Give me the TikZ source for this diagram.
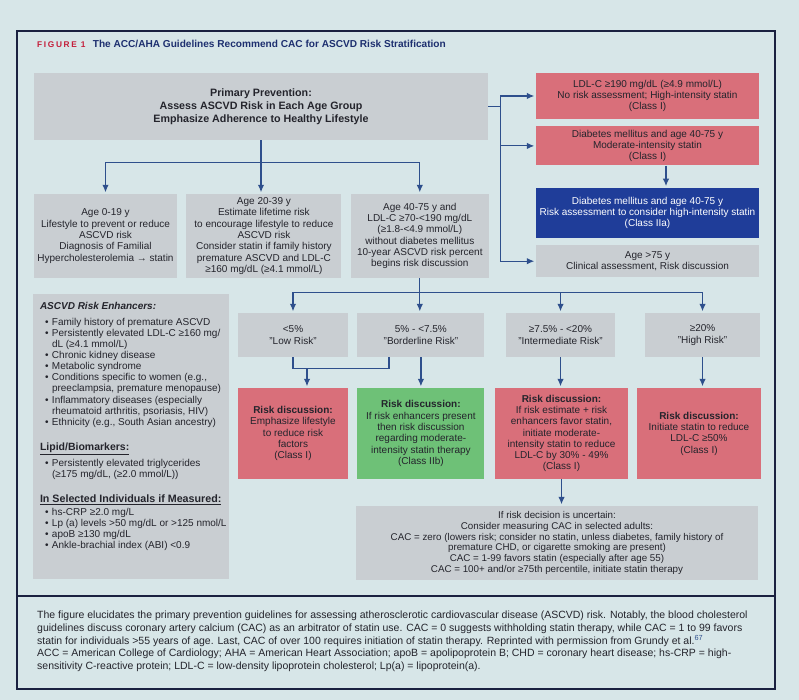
\documentclass[tikz,border=0pt]{standalone}
\usepackage{fontspec}
\setmainfont{Liberation Sans}
\newfontfamily\figfont[LetterSpace=20]{Liberation Sans}
\usetikzlibrary{positioning}
\usetikzlibrary{calc}
\usetikzlibrary{arrows.meta}

\definecolor{bgc}{HTML}{D7E6E8}
\definecolor{boxgrey}{HTML}{C9CED2}
\definecolor{boxred}{HTML}{D96F7A}
\definecolor{boxgreen}{HTML}{6EC177}
\definecolor{boxblue}{HTML}{1F3D99}
\definecolor{linkblue}{HTML}{2E4F8C}
\definecolor{framec}{HTML}{1A2140}
\definecolor{figred}{HTML}{C41E3A}
\definecolor{titleblue}{HTML}{1D2F6F}
\definecolor{txt}{HTML}{24242C}

\newcommand{\itm}{\hspace*{5pt}\makebox[7pt][l]{\textbullet}}
\newcommand{\itmc}{\hspace*{12pt}}

\tikzset{
	box/.style = {rectangle, inner sep = 2pt, align = center, text = txt, font = \fontsize{10}{11.3}\selectfont},
	greybox/.style = {box, fill = boxgrey},
	redbox/.style = {box, fill = boxred},
	greenbox/.style = {box, fill = boxgreen},
	bluebox/.style = {box, fill = boxblue, text = white},
	link/.style = {draw = linkblue, line width = 1.2pt},
	arrow/.style = {link, -{Latex[length = 7.5pt, width = 6.5pt]}, shorten > = 1.5pt},
}

\begin{document}
\begin{tikzpicture}[x = 1pt, y = -1pt]
	\useasboundingbox (0,0) rectangle (799,700);
	\fill[bgc] (0,0) rectangle (799,700);
	\draw[framec, line width = 1.4pt] (17,31) rectangle (775,689);
	\draw[framec, line width = 1.4pt] (17,596) -- (775,596);

	% title
	\node[anchor = west, inner sep = 0, font = \figfont\bfseries\fontsize{8.3}{9}\selectfont, text = figred] (fig) at (37,45) {FIGURE 1};
	\node[anchor = base west, inner sep = 0, font = \bfseries\fontsize{10.1}{12}\selectfont, text = titleblue] (title) at ($(fig.base east) + (7,0)$)
	{The ACC/AHA Guidelines Recommend CAC for ASCVD Risk Stratification};

	% age groups
	\node[greybox, minimum width = 454pt, minimum height = 67pt, font = \bfseries\fontsize{10.7}{13}\selectfont] (prev) at (261,106.5)
	{Primary Prevention:\\Assess ASCVD Risk in Each Age Group\\Emphasize Adherence to Healthy Lifestyle};
	\node[greybox, minimum width = 143pt, minimum height = 84pt] (age0) at (105.5,236)
	{Age 0-19 y\\Lifestyle to prevent or reduce\\ASCVD risk\\Diagnosis of Familial\\Hypercholesterolemia → statin};
	\node[greybox, right = 9pt of age0, minimum width = 155pt, minimum height = 84pt] (age1)
	{Age 20-39 y\\Estimate lifetime risk\\to encourage lifestyle to reduce\\ASCVD risk\\Consider statin if family history\\premature ASCVD and LDL-C\\≥160 mg/dL (≥4.1 mmol/L)};
	\node[greybox, right = 9pt of age1, minimum width = 138pt, minimum height = 84pt] (age2)
	{Age 40-75 y and\\LDL-C ≥70-<190 mg/dL\\(≥1.8-<4.9 mmol/L)\\without diabetes mellitus\\10-year ASCVD risk percent\\begins risk discussion};

	% right column
	\node[redbox, minimum width = 223pt, minimum height = 46pt] (ldl) at (647.5,96)
	{LDL-C ≥190 mg/dL (≥4.9 mmol/L)\\No risk assessment; High-intensity statin\\(Class I)};
	\node[redbox, below = 7pt of ldl, minimum width = 223pt, minimum height = 39pt] (dm)
	{Diabetes mellitus and age 40-75 y\\Moderate-intensity statin\\(Class I)};
	\node[bluebox, below = 22pt of dm, minimum width = 223pt, minimum height = 50pt] (dmrisk)
	{Diabetes mellitus and age 40-75 y\\Risk assessment to consider high-intensity statin\\(Class IIa)};
	\node[greybox, below = 7pt of dmrisk, minimum width = 223pt, minimum height = 32pt] (old)
	{Age >75 y\\Clinical assessment, Risk discussion};

	% risk enhancers
	\node[greybox, minimum width = 196pt, minimum height = 285pt] (enh) at (131,436.5) {};
	\node[below right = 8pt and 7pt of enh.north west, inner sep = 0, align = left, text = txt, font = \fontsize{10}{11.1}\selectfont] (enhtext)
	{{\bfseries\itshape ASCVD Risk Enhancers:}\\[5pt]
		\itm Family history of premature ASCVD\\
		\itm Persistently elevated LDL-C ≥160 mg/\\
		\itmc dL (≥4.1 mmol/L)\\
		\itm Chronic kidney disease\\
		\itm Metabolic syndrome\\
		\itm Conditions specific to women (e.g.,\\
		\itmc preeclampsia, premature menopause)\\
		\itm Inflammatory diseases (especially\\
		\itmc rheumatoid arthritis, psoriasis, HIV)\\
		\itm Ethnicity (e.g., South Asian ancestry)\\[14pt]
		{\bfseries\fontsize{10.5}{12}\selectfont\underline{Lipid/Biomarkers:}}\\[4pt]
		\itm Persistently elevated triglycerides\\
		\itmc (≥175 mg/dL, (≥2.0 mmol/L))\\[14pt]
		{\bfseries\fontsize{10.7}{12}\selectfont\underline{In Selected Individuals if Measured:}}\\[1pt]
		\itm hs-CRP ≥2.0 mg/L\\
		\itm Lp (a) levels >50 mg/dL or >125 nmol/L\\
		\itm apoB ≥130 mg/dL\\
		\itm Ankle-brachial index (ABI) <0.9};

	% risk levels
	\node[greybox, minimum width = 110pt, minimum height = 44pt] (low) at (293,335) {<5\%\\[1pt]"Low Risk"};
	\node[greybox, right = 9pt of low, minimum width = 127pt, minimum height = 44pt] (border) {5\% - <7.5\%\\[1pt]"Borderline Risk"};
	\node[greybox, minimum width = 109pt, minimum height = 44pt] (inter) at (560.5,335) {≥7.5\% - <20\%\\[1pt]"Intermediate Risk"};
	\node[greybox, minimum width = 115pt, minimum height = 44pt] (high) at (702.5,335) {≥20\%\\[1pt]"High Risk"};

	\node[redbox, minimum width = 110pt, minimum height = 91pt] (lowrx) at (293,433.5)
	{\textbf{Risk discussion:}\\Emphasize lifestyle\\to reduce risk\\factors\\(Class I)};
	\node[greenbox, right = 9pt of lowrx, minimum width = 127pt, minimum height = 91pt] (borderrx)
	{\textbf{Risk discussion:}\\If risk enhancers present\\then risk discussion\\regarding moderate-\\intensity statin therapy\\(Class IIb)};
	\node[redbox, minimum width = 133pt, minimum height = 91pt] (interrx) at (561.5,433.5)
	{\textbf{Risk discussion:}\\If risk estimate + risk\\enhancers favor statin,\\initiate moderate-\\intensity statin to reduce\\LDL-C by 30\% - 49\%\\(Class I)};
	\node[redbox, minimum width = 124pt, minimum height = 91pt] (highrx) at (699,433.5)
	{\textbf{Risk discussion:}\\Initiate statin to reduce\\LDL-C ≥50\%\\(Class I)};

	\node[greybox, minimum width = 402pt, minimum height = 74pt, font = \fontsize{9.8}{10.9}\selectfont] (cac) at (557,543)
	{If risk decision is uncertain:\\Consider measuring CAC in selected adults:\\CAC = zero (lowers risk; consider no statin, unless diabetes, family history of\\premature CHD, or cigarette smoking are present)\\CAC = 1-99 favors statin (especially after age 55)\\CAC = 100+ and/or ≥75th percentile, initiate statin therapy};

	% caption
	\node[anchor = north west, inner sep = 0, align = left, text = txt, font = \fontsize{10.5}{12.7}\selectfont] (caption) at (37,611)
	{The figure elucidates the primary prevention guidelines for assessing atherosclerotic cardiovascular disease (ASCVD) risk. Notably, the blood cholesterol\\
		guidelines discuss coronary artery calcium (CAC) as an arbitrator of statin use. CAC = 0 suggests withholding statin therapy, while CAC = 1 to 99 favors\\
		statin for individuals >55 years of age. Last, CAC of over 100 requires initiation of statin therapy. Reprinted with permission from Grundy et al.\textsuperscript{\color{linkblue}67}\\
		ACC = American College of Cardiology; AHA = American Heart Association; apoB = apolipoprotein B; CHD = coronary heart disease; hs-CRP = high-\\
		sensitivity C-reactive protein; LDL-C = low-density lipoprotein cholesterol; Lp(a) = lipoprotein(a).};

	% connectors
	\coordinate[below = 22pt of prev] (split);
	\coordinate[right = 12pt of prev] (rjoin);
	\coordinate[below = 14pt of age2] (split2);
	\coordinate[below = 11pt of low] (lj);

	\draw[link] (prev) -- (split);
	\draw[link] (split -| age0) -- (split -| age2);
	\draw[arrow] (split -| age0) -- (age0);
	\draw[arrow] (split) -- (split |- age1.north);
	\draw[arrow] (split -| age2) -- (age2);

	\draw[link] (prev) -- (rjoin);
	\draw[link] (rjoin |- ldl) -- (rjoin |- old);
	\draw[arrow] (rjoin |- ldl) -- (ldl);
	\draw[arrow] (rjoin |- dm) -- (dm);
	\draw[arrow] (rjoin |- old) -- (old);
	\draw[arrow] ($(dm.south) + (18.5,0)$) -- ($(dmrisk.north) + (18.5,0)$);

	\draw[link] (age2) -- (split2);
	\draw[link] (split2 -| low) -- (split2 -| high);
	\draw[arrow] (split2 -| low) -- (low);
	\draw[arrow] (split2) -- (split2 |- border.north);
	\draw[arrow] (split2 -| inter) -- (inter);
	\draw[arrow] (split2 -| high) -- (high);

	\draw[link] (low) -- (lj) -| ($(border.south west)!0.25!(border.south east)$);
	\draw[arrow] ($(lj) + (14,0)$) -- ($(lowrx.north) + (14,0)$);
	\draw[arrow] (border) -- (borderrx);
	\draw[arrow] (inter.south) -- (inter.south |- interrx.north);
	\draw[arrow] (high.south) -- (high.south |- highrx.north);
	\draw[arrow] (interrx.south) -- (interrx.south |- cac.north);
\end{tikzpicture}
\end{document}
